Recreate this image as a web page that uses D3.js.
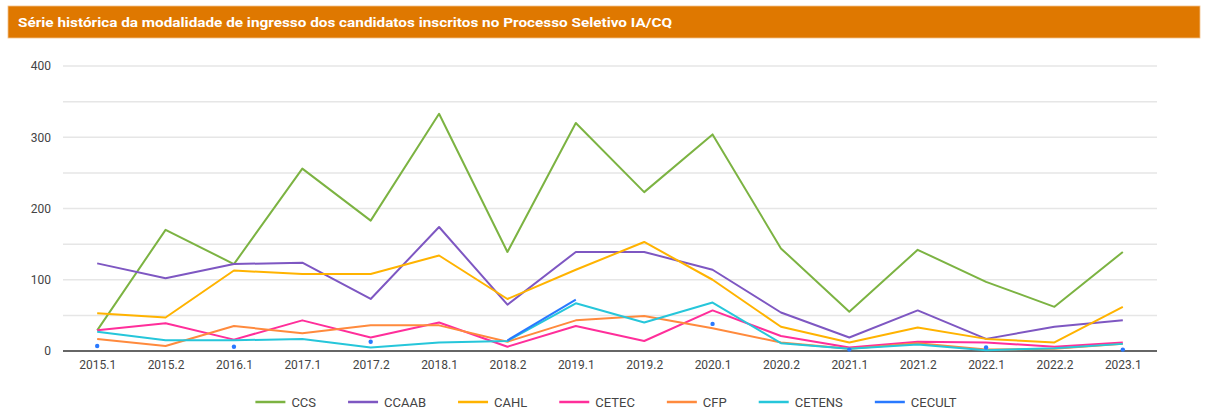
<!DOCTYPE html>
<html>
<head>
<meta charset="utf-8">
<script src="https://cdn.jsdelivr.net/npm/d3@7"></script>
<style>
  html, body { margin: 0; padding: 0; background: #fff; }
  svg { display: block; font-family: Roboto, "Noto Sans", Arial, sans-serif; }
</style>
</head>
<body>
<svg id="chart" width="1210" height="412"></svg>
<script>
const title = "Série histórica da modalidade de ingresso dos candidatos inscritos no Processo Seletivo IA/CQ";
const categories = ["2015.1","2015.2","2016.1","2017.1","2017.2","2018.1","2018.2","2019.1","2019.2","2020.1","2020.2","2021.1","2021.2","2022.1","2022.2","2023.1"];
const yTicks = [0, 100, 200, 300, 400];
const seriesNames = ["CCS","CCAAB","CAHL","CETEC","CFP","CETENS","CECULT"];
const seriesColors = ["#7cb342","#7e57c2","#ffb300","#ff2e9a","#ff8a3d","#26c6da","#2979ff"];
const CCS    = [29,170,122,256,183,333,139,320,223,304,144,55,142,97,62,139];
const CCAAB  = [123,102,122,124,73,174,65,139,139,114,54,19,57,17,34,43];
const CAHL   = [53,47,113,108,108,134,73,114,153,100,34,12,33,17,12,62];
const CETEC  = [29,39,16,43,19,40,6,35,14,57,21,5,13,12,6,12];
const CFP    = [17,7,35,25,36,36,13,43,49,32,12,3,11,2,3,10];
const CETENS = [27,15,15,17,5,12,14,67,40,68,11,3,9,1,4,10];
const CECULT = [7,null,6,null,13,null,15,72,null,38,null,2,null,5,null,2];
const seriesData = [CCS, CCAAB, CAHL, CETEC, CFP, CETENS, CECULT];

const svg = d3.select("#chart");

// Title bar
svg.append("rect").attr("x", 8).attr("y", 6).attr("width", 1192).attr("height", 32)
  .attr("fill", "#df7800").attr("stroke", "#f3c08a").attr("stroke-width", 0.8);
svg.append("text").attr("x", 18).attr("y", 27)
  .attr("fill", "#fff").attr("font-weight", "bold").attr("font-size", 13.5)
  .attr("textLength", 654).attr("lengthAdjust", "spacingAndGlyphs")
  .text(title);

const x = d3.scalePoint().domain(categories).range([63, 1157]).padding(0.5);
const y = d3.scaleLinear().domain([0, 400]).range([351, 66]);

// gridlines (every 50)
const gridVals = d3.range(50, 401, 50);
svg.append("g").selectAll("line").data(gridVals).join("line")
  .attr("x1", 63).attr("x2", 1157)
  .attr("y1", d => y(d)).attr("y2", d => y(d))
  .attr("stroke", "#e6e6e6").attr("stroke-width", 1.5);

// y axis labels
const yAxis = d3.axisLeft(y).tickValues(yTicks).tickSize(0).tickPadding(0);
const gy = svg.append("g").attr("transform", "translate(51,0)").call(yAxis);
gy.select(".domain").remove();
gy.selectAll("text").attr("font-size", 12).attr("fill", "#444").attr("font-family", "Roboto, Arial, sans-serif");

// x axis labels
const xAxis = d3.axisBottom(x).tickSize(0).tickPadding(9);
const gx = svg.append("g").attr("transform", "translate(0,351)").call(xAxis);
gx.select(".domain").remove();
gx.selectAll("text").attr("font-size", 12).attr("fill", "#444").attr("font-family", "Roboto, Arial, sans-serif");

// baseline
svg.append("line").attr("x1", 63).attr("x2", 1157).attr("y1", y(0)).attr("y2", y(0))
  .attr("stroke", "#333").attr("stroke-width", 1.5);

// lines
const line = d3.line()
  .defined(d => d != null)
  .x((d, i) => x(categories[i]))
  .y(d => y(d));

const gLines = svg.append("g");
seriesData.forEach((vals, si) => {
  gLines.append("path").datum(vals)
    .attr("fill", "none").attr("stroke", seriesColors[si]).attr("stroke-width", 2)
    .attr("stroke-linejoin", "round")
    .attr("d", line);
  // isolated points drawn as dots
  const iso = vals.map((v, i) => ({ v, i })).filter(o => o.v != null &&
    (o.i === 0 || vals[o.i - 1] == null) && (o.i === vals.length - 1 || vals[o.i + 1] == null));
  gLines.selectAll(null).data(iso).join("circle")
    .attr("cx", o => x(categories[o.i])).attr("cy", o => y(o.v)).attr("r", 2.2)
    .attr("fill", seriesColors[si]);
});

// legend
const legend = svg.append("g");
let cx = 0;
const gap = 32;
seriesNames.forEach((name, i) => {
  const g = legend.append("g");
  g.append("line").attr("x1", 0).attr("x2", 30).attr("y1", 0).attr("y2", 0)
    .attr("stroke", seriesColors[i]).attr("stroke-width", 2.5);
  const t = g.append("text").attr("x", 36).attr("y", 4.5).attr("font-size", 13)
    .attr("fill", "#444").text(name);
  const w = 36 + t.node().getComputedTextLength();
  g.attr("transform", `translate(${cx},0)`);
  cx += w + gap;
});
const total = cx - gap;
legend.attr("transform", `translate(${606 - total / 2},402)`);
</script>
</body>
</html>
